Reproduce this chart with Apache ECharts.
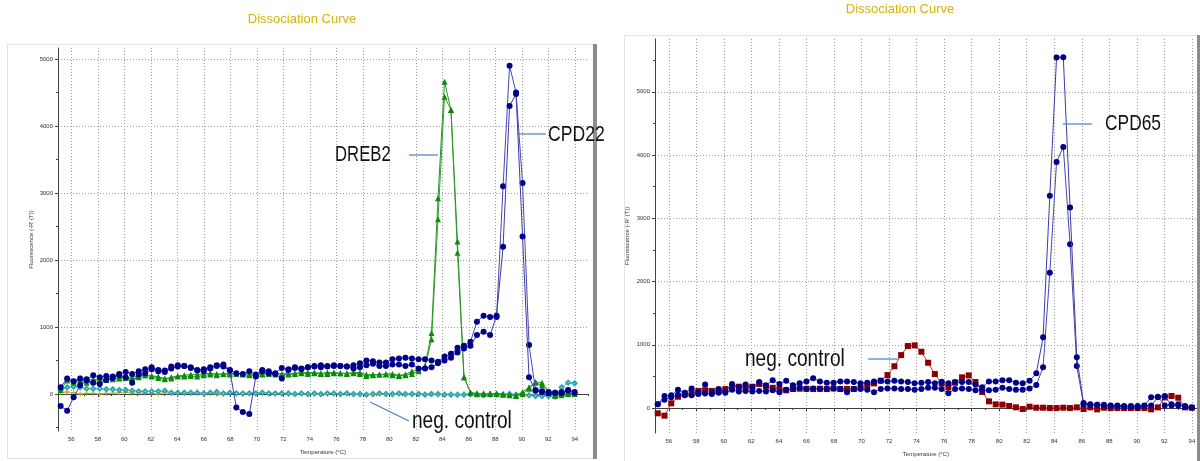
<!DOCTYPE html>
<html><head><meta charset="utf-8">
<script src="https://cdn.jsdelivr.net/npm/echarts@6/dist/echarts.min.js"></script>
<style>html,body{margin:0;padding:0;background:#fff}#c{width:1200px;height:461px}</style>
</head><body><div id="c"></div>
<script>
// Temperatures (°C) of the dissociation readings
const temps = [55.20,55.69,56.18,56.67,57.16,57.66,58.15,58.64,59.13,59.62,
60.11,60.60,61.09,61.58,62.07,62.57,63.06,63.55,64.04,64.53,
65.02,65.51,66.00,66.49,66.98,67.48,67.97,68.46,68.95,69.44,
69.93,70.42,70.91,71.40,71.89,72.39,72.88,73.37,73.86,74.35,
74.84,75.33,75.82,76.31,76.80,77.30,77.79,78.28,78.77,79.26,
79.75,80.24,80.73,81.22,81.71,82.21,82.70,83.19,83.68,84.17,
84.66,85.15,85.64,86.13,86.62,87.12,87.61,88.10,88.59,89.08,
89.57,90.06,90.55,91.04,91.53,92.03,92.52,93.01,93.50,93.99];

// Left panel
const cpd22A = [-180,-250,-50,130,200,170,150,210,240,280,
250,170,290,310,370,340,330,380,410,420,
390,360,370,400,420,410,350,-200,-270,-300,
260,340,310,300,230,360,390,370,400,410,
400,410,420,420,410,380,400,430,450,420,
420,440,440,420,440,380,380,400,460,500,
540,620,680,720,880,930,880,1170,2200,4300,
4480,2350,250,50,30,10,20,10,50,20];
const cpd22B = [100,230,190,230,220,280,250,270,260,300,
330,300,340,370,400,360,350,410,430,420,
400,350,340,380,430,440,360,310,300,340,
290,360,340,310,390,370,400,380,400,420,
430,420,430,420,410,430,460,500,490,470,
470,520,530,540,530,520,520,500,480,560,
600,690,720,780,1080,1170,1150,1150,3100,4900,
4500,3150,730,60,40,30,20,30,60,30];
const dreb2A = [100,230,190,240,200,220,210,230,220,240,
250,250,270,280,270,260,230,250,270,280,
290,290,300,310,300,300,310,300,300,300,
290,300,310,310,300,300,310,320,320,320,
310,320,320,310,310,320,320,290,290,290,
300,300,280,290,340,360,420,909,2922,4663,
4240,2275,250,20,10,10,0,10,0,-10,
-20,30,100,180,170,40,-10,0,10,0];
const dreb2B = [60,200,170,210,170,190,200,210,230,230,
240,220,250,280,260,240,220,230,260,260,
270,260,280,290,280,300,290,310,290,280,
280,290,300,290,280,290,300,310,300,310,
300,300,310,310,300,310,300,270,280,290,
290,280,270,280,300,340,400,816,2608,4439,
4240,2110,250,20,0,0,10,0,-10,-20,
-30,0,80,170,130,20,-30,-20,0,10];
const negCyan = [60,100,110,100,80,80,80,70,70,60,
60,50,40,40,40,40,50,20,20,20,
20,20,10,20,30,10,20,10,10,10,
10,20,10,10,10,10,0,10,0,10,
0,10,10,0,10,0,0,-10,0,10,
0,0,10,0,0,0,-10,0,0,-10,
-10,-10,-10,0,-10,-20,-10,-10,-10,0,
-10,-10,-20,-30,-30,-30,-40,100,170,160];
const negOlive = [20,30,20,0,10,10,0,10,10,20,
30,10,20,10,10,0,20,10,10,10,
10,10,-10,20,0,0,10,10,0,10,
0,10,10,0,10,0,0,10,0,0,
-10,0,10,0,10,0,0,0,-10,0,
0,0,0,0,0,0,0,0,-10,0,
0,-10,0,0,0,-10,0,0,-10,0,
-10,-20,-10,-20,-20,-30,-30,-20,-20,-10];

// Right panel
const cpd65A = [60,190,200,290,240,310,250,370,240,300,
260,380,330,370,330,410,360,440,380,430,
360,390,420,470,420,400,400,420,420,410,
390,400,420,430,420,430,420,410,390,400,
410,390,416,390,410,411,411,370,330,420,
420,440,440,400,390,430,548,1120,3355,5541,
5546,3171,801,79,60,50,50,40,40,30,
30,30,40,170,180,40,60,40,30,10];
const cpd65B = [60,130,170,210,200,200,220,230,220,240,
240,290,260,270,260,270,260,280,250,290,
300,320,300,310,300,300,310,300,250,300,
300,290,250,300,310,310,300,300,290,300,
320,320,300,232,300,310,300,280,280,280,
290,320,300,290,290,310,363,643,2138,3892,
4129,2591,663,60,50,50,40,30,30,20,
20,10,30,40,170,190,40,60,20,10];
const negRed = [-84,-121,74,179,221,230,269,280,270,280,
300,337,337,320,337,380,340,320,300,280,
300,305,305,300,305,300,310,300,300,300,
320,360,390,432,521,660,837,980,990,890,
716,537,390,327,400,485,516,411,253,105,
58,53,32,11,-16,21,5,5,0,0,
5,0,10,-16,10,-21,5,0,0,0,
0,0,0,-21,10,168,190,163,10,5];

// Tick labels
const xTickLabels = [56,58,60,62,64,66,68,70,72,74,76,78,80,82,84,86,88,90,92,94];
const xMinorTicks = [55,57,59,61,63,65,67,69,71,73,75,77,79,81,83,85,87,89,91,93,95];
const yTickLabels = [0,1000,2000,3000,4000,5000];
const yMinorTicks = [-500,500,1500,2500,3500,4500,5500];

const pairs = vals => temps.map((t, i) => [t, vals[i]]);

const FONT = "'Liberation Sans', Arial, sans-serif";
const gridDot = { show: true, lineStyle: { color: '#a0a0a0', type: [1, 2], width: 1 } };
const axLine = { show: true, lineStyle: { color: '#404040', width: 1 } };
const plain = v => String(v);

function mainX(g, max) {
  return { type: 'value', gridIndex: g, min: 55, max: max, position: 'bottom',
    name: 'Temperature (°C)', nameLocation: 'middle', nameGap: 18,
    nameTextStyle: { fontSize: 6, color: '#333', fontFamily: FONT },
    axisLine: axLine,
    axisTick: { show: true, length: 3, customValues: xTickLabels, lineStyle: { color: '#404040' } },
    axisLabel: { customValues: xTickLabels, formatter: plain, fontSize: 6, color: '#333', margin: 5, fontFamily: FONT },
    splitLine: gridDot };
}
function minorX(g, max) {
  return { type: 'value', gridIndex: g, min: 55, max: max, position: 'bottom',
    axisLine: { show: false },
    axisTick: { show: true, length: 2, customValues: xMinorTicks, lineStyle: { color: '#404040' } },
    axisLabel: { show: false }, splitLine: { show: false } };
}
function mainY(g, min, max, gap) {
  return { type: 'value', gridIndex: g, min: min, max: max, position: 'left',
    name: "Fluorescence (-R' (T))", nameLocation: 'middle', nameGap: gap, nameRotate: 90,
    nameTextStyle: { fontSize: 6, color: '#333', fontFamily: FONT },
    axisLine: axLine,
    axisTick: { show: true, length: 3, customValues: yTickLabels, lineStyle: { color: '#404040' } },
    axisLabel: { customValues: yTickLabels, formatter: plain, fontSize: 6, color: '#333', margin: 5, fontFamily: FONT },
    splitLine: gridDot };
}
function minorY(g, min, max) {
  return { type: 'value', gridIndex: g, min: min, max: max, position: 'left',
    axisLine: { show: false },
    axisTick: { show: true, length: 2, customValues: yMinorTicks, lineStyle: { color: '#404040' } },
    axisLabel: { show: false }, splitLine: { show: false } };
}

const plus = 'path://M2,0L3,0L3,2L5,2L5,3L3,3L3,5L2,5L2,3L0,3L0,2L2,2Z';
function ser(name, vals, xi, yi, symbol, size, color, lineColor, z) {
  const empty = symbol.indexOf('empty') === 0;
  return { name: name, type: 'line', xAxisIndex: xi, yAxisIndex: yi, data: pairs(vals),
    symbol: symbol, symbolSize: size, showSymbol: true, animation: false, z: z,
    itemStyle: { color: color, borderColor: color, borderWidth: empty ? 0.8 : 0 },
    lineStyle: { color: lineColor, width: 1 } };
}

const chart = echarts.init(document.getElementById('c'), null, { renderer: 'canvas' });

const txt = (x, y, s, size, sx) => ({ type: 'text', z: 100, x: x, y: y, scaleX: sx,
  style: { x: 0, y: 0, text: s, font: size + 'px ' + FONT, fill: '#111', textAlign: 'left', textVerticalAlign: 'middle' } });
const seg = (x1, y1, x2, y2) => ({ type: 'line', z: 100, shape: { x1: x1, y1: y1, x2: x2, y2: y2 },
  style: { stroke: '#4a7fbf', lineWidth: 1.2 } });

chart.setOption({
  backgroundColor: '#fff',
  animation: false,
  grid: [
    { left: 58, right: 612, top: 48, bottom: 30, outerBoundsMode: 'none', containLabel: false },
    { left: 655, right: 3.3, top: 39, bottom: 28, outerBoundsMode: 'none', containLabel: false }
  ],
  xAxis: [ mainX(0, 95), minorX(0, 95), mainX(1, 94.35), minorX(1, 94.35) ],
  yAxis: [ mainY(0, -552, 5165, 24), minorY(0, -552, 5165), mainY(1, -395, 5835, 25), minorY(1, -395, 5835) ],
  series: [
    ser('neg. control B', negOlive, 0, 0, plus, 5, '#b8a200', '#c0b030', 2),
    ser('neg. control A', negCyan, 0, 0, 'emptyDiamond', 4, '#2fa6b0', '#55b8c0', 3),
    ser('DREB2 B', dreb2B, 0, 0, 'triangle', 6, '#0b8a0b', '#3aa03a', 4),
    ser('DREB2 A', dreb2A, 0, 0, 'triangle', 6, '#0b8a0b', '#2a962a', 5),
    ser('CPD22 B', cpd22B, 0, 0, 'circle', 6, '#00008b', '#4848b0', 6),
    ser('CPD22 A', cpd22A, 0, 0, 'circle', 6, '#00008b', '#3c3ca8', 7),
    ser('neg. control', negRed, 2, 2, 'rect', 6, '#8b0000', '#b04848', 5),
    ser('CPD65 B', cpd65B, 2, 2, 'circle', 6, '#00008b', '#4848b0', 6),
    ser('CPD65 A', cpd65A, 2, 2, 'circle', 6, '#00008b', '#3c3ca8', 7)
  ],
  graphic: [
    { type: 'rect', z: -10, silent: true, shape: { x: 7.5, y: 44.5, width: 586, height: 414 },
      style: { fill: '#fff', stroke: '#e2e2e2', lineWidth: 1 } },
    { type: 'rect', z: -9, silent: true, shape: { x: 593, y: 44, width: 4, height: 415 },
      style: { fill: '#8c8c8c' } },
    { type: 'rect', z: -10, silent: true, shape: { x: 624.5, y: 35.5, width: 580, height: 430 },
      style: { fill: '#fff', stroke: '#e2e2e2', lineWidth: 1 } },
    { type: 'rect', z: -9, silent: true, shape: { x: 1197, y: 35, width: 3, height: 426 },
      style: { fill: '#8c8c8c' } },
    { type: 'text', z: 100, style: { x: 302, y: 19, text: 'Dissociation Curve', font: '13px ' + FONT,
      fill: '#d8b400', textAlign: 'center', textVerticalAlign: 'middle' } },
    { type: 'text', z: 100, style: { x: 900, y: 9, text: 'Dissociation Curve', font: '13px ' + FONT,
      fill: '#d8b400', textAlign: 'center', textVerticalAlign: 'middle' } },
    txt(335, 155, 'DREB2', 22, 0.76), seg(409, 155, 438, 155),
    txt(548, 135, 'CPD22', 22, 0.8), seg(517, 134, 546, 134),
    txt(412, 422, 'neg. control', 23, 0.83), seg(370, 402, 409, 421),
    txt(1105, 124, 'CPD65', 22, 0.79), seg(1063, 124, 1092, 124),
    txt(745, 360, 'neg. control', 23, 0.83), seg(868, 359, 898, 359)
  ]
});
</script></body></html>
